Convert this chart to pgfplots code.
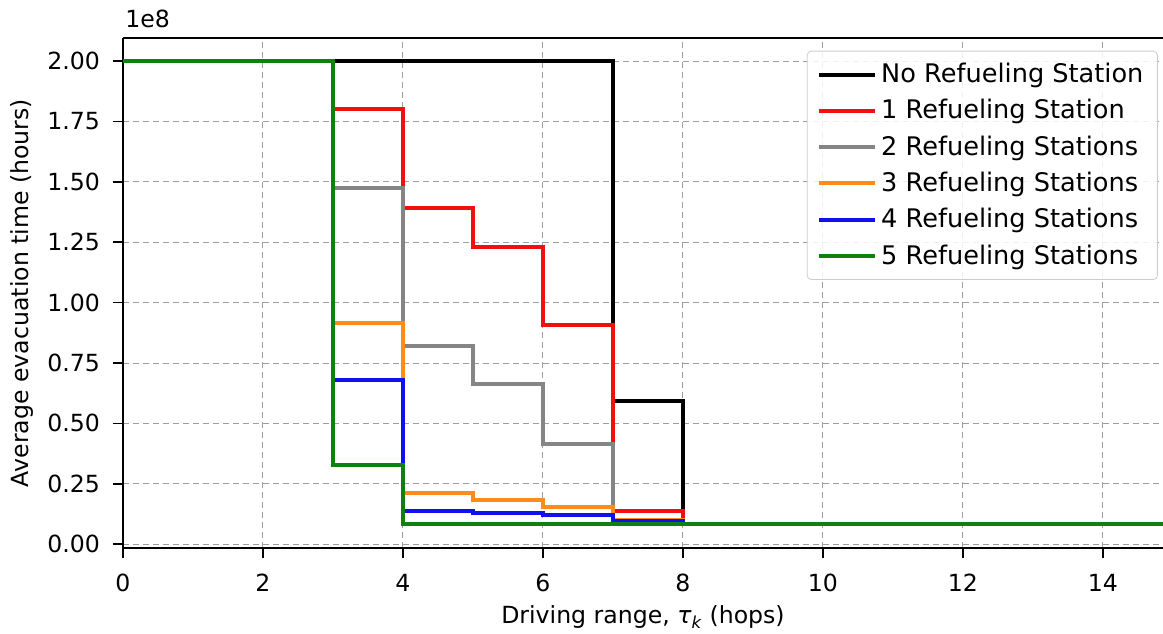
\documentclass[border=0pt]{standalone}
\usepackage{pgfplots}
\pgfplotsset{compat=1.18}
\usepackage{fontspec}
\setmainfont{DejaVu Sans}
\definecolor{cRed}{HTML}{F01010}
\definecolor{cGray}{HTML}{858585}
\definecolor{cOrange}{HTML}{FF8C1A}
\definecolor{cBlue}{HTML}{1010F0}
\definecolor{cGreen}{HTML}{108010}
\begin{document}
\fontsize{11.5}{14}\selectfont
\begin{tikzpicture}
\begin{axis}[
  name=ax,
  scale only axis,
  width=520pt, height=255pt,
  xmin=0, xmax=14.86,
  ymin=-0.016, ymax=2.096,
  xtick={0,2,4,6,8,10,12,14},
  ytick={0,0.25,0.5,0.75,1,1.25,1.5,1.75,2},
  yticklabel style={xshift=-2.5pt, font=\fontsize{11.8}{14}\selectfont, /pgf/number format/.cd, fixed, fixed zerofill, precision=2},
  /pgf/number format/assume math mode=true,
  tick align=outside,
  xtick pos=lower, ytick pos=left,
  axis y line*=left,
  major tick length=5pt,
  tick style={black, line width=0.8pt},
  axis line style={black, line width=0.9pt},
  grid=major,
  major grid style={gray!75, line width=0.5pt, dash pattern=on 3pt off 2pt},
  xlabel={Driving range, {\itshape τ}\textsubscript{\itshape k} (hops)},
  ylabel={Average evacuation time (hours)},
  xlabel style={at={(axis description cs:0.5,0)}, anchor=north, yshift=-25pt, font=\fontsize{11.8}{14}\selectfont},
  ylabel style={at={([xshift=-41pt]axis description cs:0,0.5)}, anchor=south, font=\fontsize{11.8}{14}\selectfont},
  xticklabel style={yshift=-4pt, font=\fontsize{11.8}{14}\selectfont},
  every axis plot/.append style={line width=2pt, const plot, mark=none},
  legend cell align=left,
  legend style={at={(axis description cs:0.995,0.975)}, anchor=north east,
    draw=gray!40, rounded corners=2pt, fill=white, fill opacity=0.85, text opacity=1,
    font=\fontsize{12.8}{14}\selectfont, row sep=2.7pt, inner xsep=5pt, inner ysep=4pt},
  legend image code/.code={\draw[#1] (0pt,0pt) -- (28pt,0pt);},
  clip=true,
]
\addplot[black] coordinates {(0,2) (7,0.593) (8,0.085) (15,0.085)};
\addlegendentry{No Refueling Station}
\addplot[cRed] coordinates {(0,2) (3,1.80) (4,1.39) (5,1.229) (6,0.907) (7,0.137) (8,0.085) (15,0.085)};
\addlegendentry{1 Refueling Station}
\addplot[cGray] coordinates {(0,2) (3,1.473) (4,0.821) (5,0.663) (6,0.414) (7,0.10) (8,0.085) (15,0.085)};
\addlegendentry{2 Refueling Stations}
\addplot[cOrange] coordinates {(0,2) (3,0.915) (4,0.211) (5,0.183) (6,0.152) (7,0.10) (8,0.085) (15,0.085)};
\addlegendentry{3 Refueling Stations}
\addplot[cBlue] coordinates {(0,2) (3,0.679) (4,0.138) (5,0.128) (6,0.12) (7,0.097) (8,0.085) (15,0.085)};
\addlegendentry{4 Refueling Stations}
\addplot[cGreen] coordinates {(0,2) (3,0.327) (4,0.085) (15,0.085)};
\addlegendentry{5 Refueling Stations}
\end{axis}
\node[anchor=south west, inner sep=1pt, yshift=4pt, font=\fontsize{11.8}{14}\selectfont] at (ax.north west) {1e8};
\pgfresetboundingbox
\path ([shift={(-61.5pt,-43pt)}]ax.south west) rectangle ([shift={(0pt,19pt)}]ax.north east);
\end{tikzpicture}
\end{document}
